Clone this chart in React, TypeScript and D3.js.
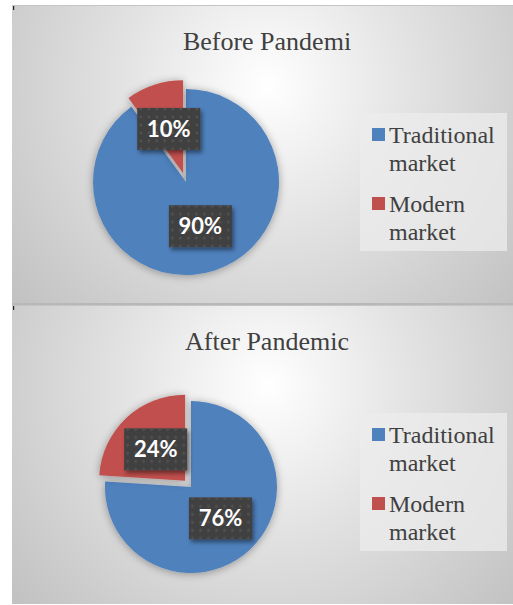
import React from "react";
import * as d3 from "d3";

const categories = ["Traditional market", "Modern market"];
const beforeValues = [90, 10];
const afterValues = [76, 24];
const chartTitles = ["Before Pandemi", "After Pandemic"];
const colors = ["#4f81bd", "#c0504d"];

const W = 513;
const H = 605;
const SERIF = "'Liberation Serif', 'Times New Roman', Tinos, 'DejaVu Serif', serif";

type PanelCfg = {
  y: number;
  h: number;
  title: string;
  values: number[];
  cx: number;
  cy: number;
  r: number;
};

const panels: PanelCfg[] = [
  { y: 5, h: 298, title: chartTitles[0], values: beforeValues, cx: 186, cy: 177, r: 93 },
  { y: 305, h: 299, title: chartTitles[1], values: afterValues, cx: 191, cy: 182, r: 86 },
];

function Panel({ cfg, idx }: { cfg: PanelCfg; idx: number }) {
  const pie = d3
    .pie<number>()
    .sort(null)
    .value((d) => d)
    .startAngle(0)
    .endAngle(2 * Math.PI);
  const arcs = pie(cfg.values);
  const arc = d3.arc<d3.PieArcDatum<number>>().innerRadius(0).outerRadius(cfg.r);
  const total = d3.sum(cfg.values);
  const explode = cfg.r * 0.1;
  const gid = `bg${idx}`;

  return (
    <g transform={`translate(12,${cfg.y})`}>
      <defs>
        <radialGradient id={gid} gradientUnits="userSpaceOnUse" cx={255} cy={80} r={330}>
          <stop offset="0%" stopColor="#ffffff" />
          <stop offset="45%" stopColor="#e2e2e2" />
          <stop offset="100%" stopColor="#c2c2c2" />
        </radialGradient>
      </defs>
      <rect x={0} y={0} width={W - 12} height={cfg.h} fill={`url(#${gid})`} />
      <line x1={0} x2={W - 12} y1={0.5} y2={0.5} stroke="#c4c4c4" strokeWidth={1} />
      <rect x={1} y={1} width={1.2} height={4} fill="#222" />
      <text
        x={255}
        y={45}
        textAnchor="middle"
        fontFamily={SERIF}
        fontSize={26}
        fill="#404040"
      >
        {cfg.title}
      </text>
      <g transform={`translate(${cfg.cx - 12},${cfg.cy})`}>
        {arcs.map((a, i) => {
          const mid = (a.startAngle + a.endAngle) / 2;
          const off = i === 1 ? explode : 0;
          const dx = Math.sin(mid) * off;
          const dy = -Math.cos(mid) * off;
          return (
            <path
              key={i}
              d={arc(a) || ""}
              transform={`translate(${dx},${dy})`}
              fill={colors[i]}
              filter="url(#pieShadow)"
            />
          );
        })}
        {arcs.map((a, i) => {
          const mid = (a.startAngle + a.endAngle) / 2;
          const off = (i === 1 ? explode : 0) + cfg.r * 0.5;
          const lx = Math.sin(mid) * off;
          const ly = -Math.cos(mid) * off;
          const pct = `${Math.round((a.value / total) * 100)}%`;
          return (
            <g key={`l${i}`} transform={`translate(${lx},${ly})`}>
              <rect
                x={-31.5}
                y={-21}
                width={63}
                height={42}
                fill="#404040"
                filter="url(#labelShadow)"
              />
              <rect x={-31.5} y={-21} width={63} height={42} fill="url(#dots)" />
              <text
                x={0}
                y={8}
                textAnchor="middle"
                fontFamily="Lato, sans-serif"
                fontWeight={700}
                fontSize={22}
                fill="#ffffff"
              >
                {pct}
              </text>
            </g>
          );
        })}
      </g>
      <g transform="translate(348,108)">
        <rect x={0} y={0} width={147} height={138} fill="#ececec" opacity={0.75} />
        {categories.map((c, i) => {
          const words = c.split(" ");
          const y0 = 15 + i * 69;
          return (
            <g key={c} transform={`translate(0,${y0})`}>
              <rect x={12} y={0} width={13} height={13} fill={colors[i]} />
              {words.map((w, j) => (
                <text
                  key={j}
                  x={29}
                  y={15 + j * 28}
                  fontFamily={SERIF}
                  fontSize={24}
                  fill="#404040"
                >
                  {w}
                </text>
              ))}
            </g>
          );
        })}
      </g>
    </g>
  );
}

export default function App() {
  return (
    <svg
      width={W}
      height={H}
      style={{ position: "absolute", left: 0, top: 0, background: "#ffffff" }}
    >
      <defs>
        <filter id="pieShadow" x="-30%" y="-30%" width="160%" height="160%">
          <feGaussianBlur in="SourceAlpha" stdDeviation="4" />
          <feOffset dx="0" dy="1" result="b" />
          <feComponentTransfer>
            <feFuncA type="linear" slope="0.35" />
          </feComponentTransfer>
          <feMerge>
            <feMergeNode />
            <feMergeNode in="SourceGraphic" />
          </feMerge>
        </filter>
        <filter id="labelShadow" x="-30%" y="-30%" width="160%" height="170%">
          <feGaussianBlur in="SourceAlpha" stdDeviation="2" />
          <feOffset dx="2" dy="3" />
          <feComponentTransfer>
            <feFuncA type="linear" slope="0.45" />
          </feComponentTransfer>
          <feMerge>
            <feMergeNode />
            <feMergeNode in="SourceGraphic" />
          </feMerge>
        </filter>
        <pattern id="dots" width="8" height="8" patternUnits="userSpaceOnUse">
          <circle cx="4" cy="4" r="1.4" fill="#5a5a5a" opacity={0.7} />
        </pattern>
      </defs>
      <rect x={12} y={303} width={W - 12} height={2} fill="#b8b8b8" />
      {panels.map((p, i) => (
        <Panel key={i} cfg={p} idx={i} />
      ))}
    </svg>
  );
}
